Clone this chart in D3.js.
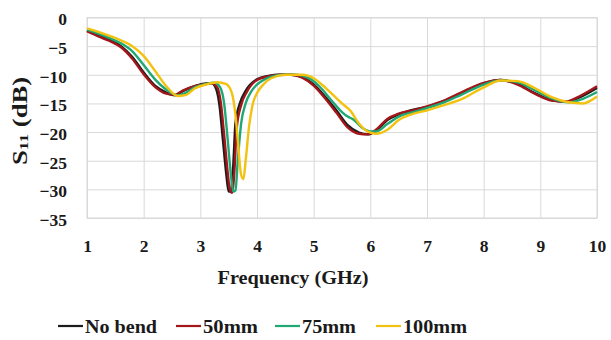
<!DOCTYPE html>
<html><head><meta charset="utf-8">
<script src="https://cdn.jsdelivr.net/npm/d3@7"></script>
<style>
body{margin:0;background:#fff;}
svg{display:block;}
text{font-family:"Times New Roman","Liberation Serif","DejaVu Serif",serif;font-weight:bold;fill:#1a1a1a;}
</style></head>
<body><svg id="chart" width="611" height="340"></svg>
<script>
// ---- data ----
const xTicks = [1,2,3,4,5,6,7,8,9,10];
const yTicks = [0,-5,-10,-15,-20,-25,-30,-35];
const seriesNames = ["No bend","50mm","75mm","100mm"];
const seriesColors = ["#1c1c1c","#a3161a","#1fa874","#f3c211"];

const freqNoBend = [1.0,1.2,1.4,1.6,1.8,2.0,2.2,2.4,2.55,2.7,2.9,3.1,3.2,3.28,3.34,3.4,3.46,3.5,3.54,3.58,3.62,3.7,3.8,4.0,4.2,4.4,4.6,4.8,5.0,5.2,5.4,5.6,5.8,5.95,6.1,6.3,6.5,6.8,7.0,7.3,7.6,8.0,8.3,8.6,8.9,9.2,9.45,9.7,10.0];
const s11NoBend = [-2.3,-3.1,-3.9,-5.0,-6.9,-9.6,-11.9,-13.1,-13.6,-12.8,-12.0,-11.5,-11.5,-12.5,-15.5,-21.5,-27.5,-30.4,-30.4,-26.0,-18.5,-14.9,-12.8,-10.8,-10.2,-10.0,-10.0,-10.4,-11.7,-13.8,-16.2,-18.8,-20.1,-20.4,-19.8,-17.9,-16.9,-16.0,-15.6,-14.6,-13.3,-11.5,-10.9,-11.6,-13.2,-14.4,-14.7,-13.9,-12.3];

const freq50 = [1.0,1.2,1.4,1.6,1.8,2.0,2.2,2.4,2.55,2.7,2.9,3.1,3.2,3.3,3.36,3.42,3.48,3.52,3.56,3.6,3.64,3.72,3.82,4.0,4.2,4.4,4.6,4.8,5.0,5.2,5.4,5.6,5.8,5.95,6.1,6.3,6.5,6.8,7.0,7.3,7.6,8.0,8.3,8.6,8.9,9.2,9.45,9.7,10.0];
const s11_50 = [-2.4,-3.3,-4.1,-5.2,-7.2,-9.9,-12.1,-13.3,-13.5,-12.7,-12.0,-11.6,-11.5,-12.2,-14.8,-20.5,-26.8,-30.0,-30.6,-27.0,-19.5,-15.3,-13.0,-10.9,-10.3,-10.0,-10.0,-10.5,-11.9,-14.1,-16.6,-19.2,-20.3,-20.4,-19.6,-17.7,-16.8,-16.1,-15.5,-14.5,-13.1,-11.4,-10.9,-11.7,-13.3,-14.5,-14.7,-13.7,-12.0];

const freq75 = [1.0,1.2,1.4,1.6,1.8,2.0,2.2,2.4,2.6,2.75,2.9,3.1,3.25,3.35,3.42,3.48,3.54,3.58,3.62,3.66,3.72,3.8,3.9,4.1,4.3,4.5,4.7,4.9,5.1,5.3,5.5,5.6,5.7,5.85,6.0,6.1,6.3,6.5,6.8,7.0,7.3,7.6,8.0,8.3,8.6,8.9,9.2,9.5,9.75,10.0];
const s11_75 = [-2.1,-2.8,-3.6,-4.5,-5.9,-8.3,-10.8,-12.6,-13.6,-13.1,-12.2,-11.6,-11.4,-12.2,-15.0,-21.0,-27.5,-30.4,-30.2,-25.0,-18.5,-15.0,-12.9,-11.0,-10.2,-10.0,-10.0,-10.5,-12.0,-14.3,-16.5,-17.3,-17.8,-19.2,-19.9,-19.9,-18.6,-17.3,-16.4,-15.8,-14.8,-13.5,-11.7,-11.0,-11.3,-12.7,-14.1,-14.8,-14.2,-13.0];

const freq100 = [1.0,1.2,1.4,1.6,1.8,2.0,2.2,2.4,2.6,2.75,2.9,3.1,3.3,3.45,3.55,3.62,3.67,3.72,3.76,3.8,3.86,3.92,4.0,4.1,4.25,4.5,4.8,5.0,5.2,5.35,5.5,5.65,5.8,5.95,6.1,6.3,6.5,6.7,7.0,7.3,7.6,8.0,8.3,8.6,8.9,9.2,9.5,9.75,10.0];
const s11_100 = [-1.9,-2.5,-3.2,-4.0,-5.0,-6.7,-9.3,-12.0,-13.7,-13.5,-12.4,-11.7,-11.3,-11.6,-13.0,-17.0,-22.5,-27.5,-28.2,-25.0,-19.0,-15.3,-13.2,-11.8,-10.6,-10.0,-10.0,-10.6,-12.2,-13.6,-15.0,-16.3,-18.5,-19.9,-20.3,-19.6,-17.9,-17.0,-16.2,-15.3,-14.3,-12.2,-11.0,-11.1,-12.3,-13.9,-14.8,-15.0,-13.8];

const seriesFreq = [freqNoBend, freq50, freq75, freq100];
const seriesVals = [s11NoBend, s11_50, s11_75, s11_100];

// ---- chart ----
const svg = d3.select("#chart");
const pL = 87, pR = 597, pT = 17.5, pB = 218;
const x = d3.scaleLinear().domain([1,10]).range([pL,pR]);
const y = d3.scaleLinear().domain([-35,0]).range([pB,pT]);

// y gridlines + labels
const gy = svg.append("g").attr("transform",`translate(${pL},0)`)
  .call(d3.axisLeft(y).tickValues(yTicks).tickSize(-(pR-pL)).tickPadding(20).tickFormat(d3.format("d")));
gy.select(".domain").remove();
gy.selectAll(".tick line").attr("stroke","#d9d9d9").attr("stroke-width",1);
gy.selectAll(".tick text").attr("font-size",17.5).attr("fill","#1a1a1a").attr("dy","0.42em");

// x gridlines + labels
const gx = svg.append("g").attr("transform",`translate(0,${pB})`)
  .call(d3.axisBottom(x).tickValues(xTicks).tickSize(-(pB-pT)).tickPadding(22).tickFormat(d3.format("d")));
gx.select(".domain").remove();
gx.selectAll(".tick line").attr("stroke","#d9d9d9").attr("stroke-width",1);
gx.selectAll(".tick text").attr("font-size",17.5).attr("fill","#1a1a1a");

// plot border
svg.append("rect").attr("x",pL).attr("y",pT).attr("width",pR-pL).attr("height",pB-pT)
  .attr("fill","none").attr("stroke","#d9d9d9").attr("stroke-width",1);

// lines
const line = d3.line().x(d=>x(d[0])).y(d=>y(d[1])).curve(d3.curveMonotoneX);
seriesNames.forEach((name,i)=>{
  const pts = seriesFreq[i].map((f,j)=>[f, seriesVals[i][j]]);
  svg.append("path").datum(pts).attr("d",line).attr("fill","none")
    .attr("stroke",seriesColors[i]).attr("stroke-width",2.4).attr("stroke-linejoin","round");
});

// axis titles
svg.append("text").attr("x",293).attr("y",284).attr("text-anchor","middle")
  .attr("font-size",18).attr("textLength",151).attr("lengthAdjust","spacingAndGlyphs")
  .text("Frequency (GHz)");

const yt = svg.append("text").attr("transform","translate(27,121) rotate(-90)")
  .attr("text-anchor","middle").attr("font-size",20)
  .attr("textLength",88).attr("lengthAdjust","spacingAndGlyphs");
yt.append("tspan").text("S");
yt.append("tspan").attr("font-size",13).attr("dy",1).text("11");
yt.append("tspan").attr("dy",-1).text(" (dB)");

// legend
const legX = [58,176,275,376];
const legW = [72,55,54,64];
const legY = 326;
seriesNames.forEach((name,i)=>{
  svg.append("line").attr("x1",legX[i]).attr("x2",legX[i]+25).attr("y1",legY).attr("y2",legY)
    .attr("stroke",seriesColors[i]).attr("stroke-width",2.2);
  svg.append("text").attr("x",legX[i]+27).attr("y",legY+7).attr("font-size",18)
    .attr("textLength",legW[i]).attr("lengthAdjust","spacingAndGlyphs").text(name);
});
</script></body></html>
